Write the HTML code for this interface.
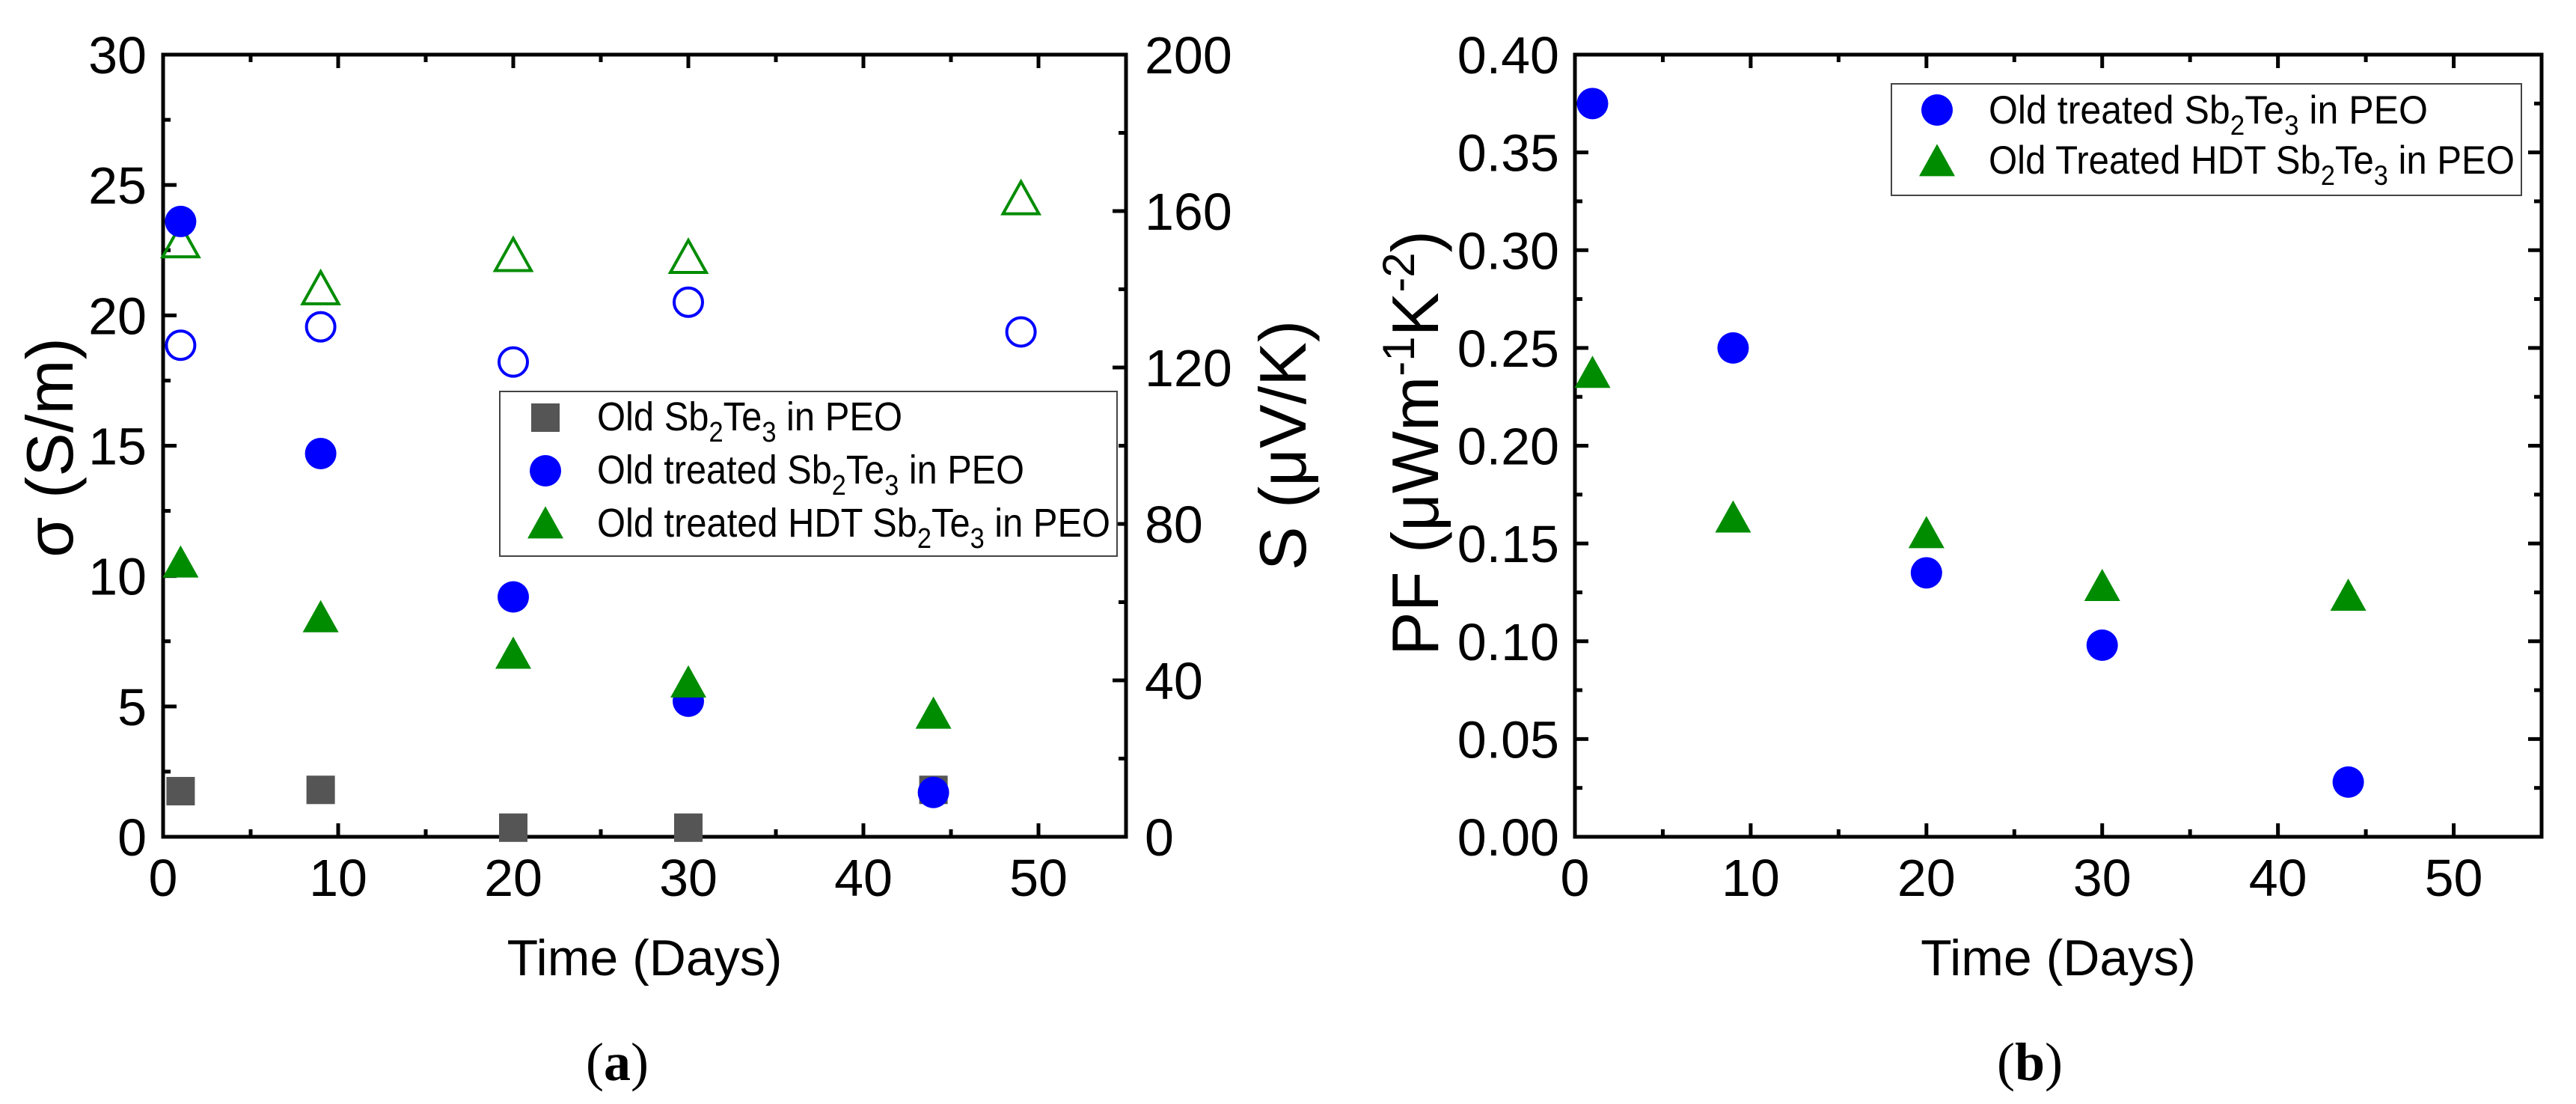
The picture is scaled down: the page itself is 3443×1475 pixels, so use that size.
<!DOCTYPE html>
<html><head><meta charset="utf-8"><style>
html,body{margin:0;padding:0;background:#fff;}
svg{display:block;}
text{font-family:"Liberation Sans",Arial,sans-serif;fill:#000;}
</style></head><body>
<svg id="fig" width="3443" height="1475" viewBox="0 0 3443 1475" xmlns="http://www.w3.org/2000/svg">
<g id="pa"></g>
<g id="pb"></g>
</svg>
<script>
// Panel (a) data
const daysA = [1, 9, 20, 30, 44];
const sigmaOld = [1.75, 1.8, 0.35, 0.35, 1.8];
const sigmaTreated = [23.6, 14.7, 9.2, 5.2, 1.7];
const sigmaHDT = [10.5, 8.4, 7.0, 5.9, 4.7];
const daysS = [1, 9, 20, 30, 49];
const seebeckTreated = [125.7, 130.4, 121.4, 136.7, 129.1];
const seebeckHDT = [152, 140, 148.5, 148, 163];
// Panel (b) data
const daysB = [1, 9, 20, 30, 44];
const pfTreated = [0.375, 0.25, 0.135, 0.098, 0.028];
const pfHDT = [0.237, 0.163, 0.155, 0.128, 0.123];
// ticks
const xTicks = [0, 10, 20, 30, 40, 50];
const yTicksA = [0, 5, 10, 15, 20, 25, 30];
const yTicksS = [0, 40, 80, 120, 160, 200];
const yTicksB = ["0.00","0.05","0.10","0.15","0.20","0.25","0.30","0.35","0.40"];

const NS = "http://www.w3.org/2000/svg";
function mk(parent, tag, attrs, txt){
  const e = document.createElementNS(NS, tag);
  for (const k in attrs) e.setAttribute(k, attrs[k]);
  if (txt !== undefined) e.textContent = txt;
  parent.appendChild(e);
  return e;
}
const TOP = 73, BOT = 1118;
function axisFns(x0, x1, xmax, ymax){
  return {
    X: v => x0 + (x1 - x0) * v / xmax,
    Y: v => BOT - (BOT - TOP) * v / ymax
  };
}
function circle(g, cx, cy, color, open, name){
  const c = mk(g, "circle", open ? {cx, cy, r: 19, fill: "none", stroke: color, "stroke-width": 4} : {cx, cy, r: 21, fill: color});
  
  
}
function tri(g, cx, cy, color, open, name){
  const w = 24, h = 43;
  const pts = `${cx-w},${cy+h*0.45} ${cx+w},${cy+h*0.45} ${cx},${cy-h*0.55}`;
  const t = mk(g, "polygon", open ? {points: pts, fill: "none", stroke: color, "stroke-width": 4} : {points: pts, fill: color});
  
  
}
function square(g, cx, cy, name){
  const s = mk(g, "rect", {x: cx-19, y: cy-19, width: 38, height: 38, fill: "#555555"});
  
  
}
function frame(g, x0, x1, fx){
  const f = mk(g, "rect", {x: x0, y: TOP, width: x1-x0, height: BOT-TOP, fill: "none", stroke: "#000", "stroke-width": 5});
  
  
  for (let v = 0; v <= 55; v += 5){
    const x = fx(v), L = (v % 10 === 0) ? 18 : 10;
    mk(g, "line", {x1: x, x2: x, y1: BOT, y2: BOT-L, stroke: "#000", "stroke-width": 5});
    mk(g, "line", {x1: x, x2: x, y1: TOP, y2: TOP+L, stroke: "#000", "stroke-width": 5});
  }
  xTicks.forEach(v => {
    const t = mk(g, "text", {x: fx(v), y: 1197, "font-size": 70, "text-anchor": "middle"}, String(v));
    
    
  });
  const xt = mk(g, "text", {x: (x0+x1)/2, y: 1303, "font-size": 68, "text-anchor": "middle"}, "Time (Days)");
  
  
}
function yTicksDraw(g, x, fy, vals, labels, minorStep, max, side, labelX, anchor, name){
  for (let v = 0; v <= max + 1e-9; v += minorStep){
    const y = fy(v);
    const major = vals.some(m => Math.abs(m - v) < 1e-9);
    const L = major ? 18 : 10;
    mk(g, "line", {x1: x, x2: x + side*L, y1: y, y2: y, stroke: "#000", "stroke-width": 5});
  }
  if (labels) vals.forEach((v, i) => {
    const t = mk(g, "text", {x: labelX, y: fy(v) + 25, "font-size": 70, "text-anchor": anchor}, labels[i]);
    
    
  });
}
function legendText(g, x, y, parts, name, fs, len){
  const t = mk(g, "text", {x, y, "font-size": fs, textLength: len, lengthAdjust: "spacingAndGlyphs"});
  let shifted = false;
  parts.forEach(p => {
    if (typeof p === "string") {
      const a = {};
      if (shifted) { a.dy = -15; shifted = false; }
      mk(t, "tspan", a, p);
    } else {
      mk(t, "tspan", {"font-size": Math.round(fs*0.7), dy: 15}, p.sub);
      shifted = true;
    }
  });
  
  
}

// ---------- Panel A ----------
const ga = document.getElementById("pa");
const A = axisFns(218, 1505, 55, 30);
const YS = v => BOT - (BOT - TOP) * v / 200;
frame(ga, 218, 1505, A.X);
yTicksDraw(ga, 218, A.Y, yTicksA, yTicksA.map(String), 2.5, 30, 1, 196, "end", "y-tick-label-left");
yTicksDraw(ga, 1505, YS, yTicksS, yTicksS.map(String), 20, 200, -1, 1530, "start", "y-tick-label-right");
let t = mk(ga, "text", {x: 0, y: 0, "font-size": 88, "text-anchor": "middle", transform: "translate(97,598) rotate(-90)"}, "σ (S/m)");


t = mk(ga, "text", {x: 0, y: 0, "font-size": 88, "text-anchor": "middle", transform: "translate(1745,595) rotate(-90)"}, "S (μV/K)");



seebeckTreated.forEach((v, i) => circle(ga, A.X(daysS[i]), YS(v), "#0000ff", true, "seebeck-treated-point"));
seebeckHDT.forEach((v, i) => tri(ga, A.X(daysS[i]), YS(v), "#008c00", true, "seebeck-hdt-point"));
sigmaOld.forEach((v, i) => square(ga, A.X(daysA[i]), A.Y(v), "sigma-old-point"));
sigmaTreated.forEach((v, i) => circle(ga, A.X(daysA[i]), A.Y(v), "#0000ff", false, "sigma-treated-point"));
sigmaHDT.forEach((v, i) => tri(ga, A.X(daysA[i]), A.Y(v), "#008c00", false, "sigma-hdt-point"));

const la = mk(ga, "g", {});


mk(la, "rect", {x: 668, y: 523, width: 825, height: 220, fill: "#fff", stroke: "#444", "stroke-width": 2});
square(la, 729, 558, "legend-marker-old");
legendText(la, 798, 575, ["Old Sb", {sub: "2"}, "Te", {sub: "3"}, " in PEO"], "legend-entry-old", 54, 408);
circle(la, 729, 629, "#0000ff", false, "legend-marker-treated");
legendText(la, 798, 646, ["Old treated Sb", {sub: "2"}, "Te", {sub: "3"}, " in PEO"], "legend-entry-treated", 54, 571);
tri(la, 729, 700, "#008c00", false, "legend-marker-hdt");
legendText(la, 798, 717, ["Old treated HDT Sb", {sub: "2"}, "Te", {sub: "3"}, " in PEO"], "legend-entry-hdt", 54, 686);

t = mk(ga, "text", {x: 825, y: 1443, "font-size": 72, "text-anchor": "middle", style: "font-family:'Liberation Serif',serif"});
mk(t, "tspan", {}, "(");
mk(t, "tspan", {"font-weight": "bold"}, "a");
mk(t, "tspan", {}, ")");



// ---------- Panel B ----------
const gb = document.getElementById("pb");
const B = axisFns(2105, 3397, 55, 0.40);
frame(gb, 2105, 3397, B.X);
const yB = yTicksB.map(Number);
yTicksDraw(gb, 2105, B.Y, yB, yTicksB, 0.025, 0.40, 1, 2084, "end", "y-tick-label-pf");
yTicksDraw(gb, 3397, B.Y, yB, null, 0.025, 0.40, -1, 0, "end", "");
t = mk(gb, "text", {x: 0, y: 0, "font-size": 88, "text-anchor": "middle", transform: "translate(1922,592) rotate(-90)"});
mk(t, "tspan", {}, "PF (μWm");
mk(t, "tspan", {"font-size": 60, dy: -32}, "-1");
mk(t, "tspan", {dy: 32}, "K");
mk(t, "tspan", {"font-size": 60, dy: -32}, "-2");
mk(t, "tspan", {dy: 32}, ")");



pfTreated.forEach((v, i) => circle(gb, B.X(daysB[i]), B.Y(v), "#0000ff", false, "pf-treated-point"));
pfHDT.forEach((v, i) => tri(gb, B.X(daysB[i]), B.Y(v), "#008c00", false, "pf-hdt-point"));

const lb = mk(gb, "g", {});


mk(lb, "rect", {x: 2528, y: 112, width: 842, height: 149, fill: "#fff", stroke: "#444", "stroke-width": 2});
circle(lb, 2589, 147, "#0000ff", false, "legend-marker-pf-treated");
legendText(lb, 2658, 165, ["Old  treated Sb", {sub: "2"}, "Te", {sub: "3"}, " in PEO"], "legend-entry-pf-treated", 53, 587);
tri(lb, 2589, 216, "#008c00", false, "legend-marker-pf-hdt");
legendText(lb, 2658, 232, ["Old Treated HDT Sb", {sub: "2"}, "Te", {sub: "3"}, " in PEO"], "legend-entry-pf-hdt", 53, 703);

t = mk(gb, "text", {x: 2713, y: 1443, "font-size": 72, "text-anchor": "middle", style: "font-family:'Liberation Serif',serif"});
mk(t, "tspan", {}, "(");
mk(t, "tspan", {"font-weight": "bold"}, "b");
mk(t, "tspan", {}, ")");


</script>
</body></html>
